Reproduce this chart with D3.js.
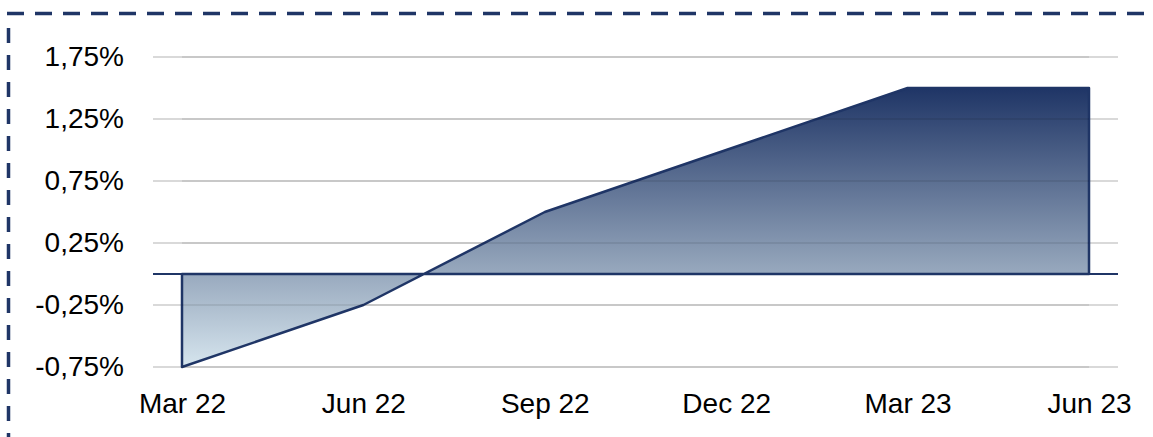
<!DOCTYPE html>
<html>
<head>
<meta charset="utf-8">
<script src="https://cdn.jsdelivr.net/npm/d3@7"></script>
<style>
  html, body { margin: 0; padding: 0; background: #fff; }
  svg { display: block; }
  text { font-family: "Liberation Sans", Arial, sans-serif; fill: #000; }
</style>
</head>
<body>
<svg id="chart" width="1153" height="437"></svg>
<script>
// Quarterly rate path (percent)
const categories = ["Mar 22", "Jun 22", "Sep 22", "Dec 22", "Mar 23", "Jun 23"];
const values = [-0.75, -0.25, 0.5, 1.0, 1.5, 1.5];
const yTicks = [-0.75, -0.25, 0.25, 0.75, 1.25, 1.75];

const navy = "#1f3566";
const svg = d3.select("#chart");

const x = d3.scalePoint().domain(categories).range([182, 1089]);
const y = d3.scaleLinear().domain([-0.75, 1.75]).range([367, 57]);
const plotLeft = 153, plotRight = 1118;

// Comma decimals, plain hyphen for negatives
const fmt = v => (v < 0 ? "-" : "") + Math.abs(v).toFixed(2).replace(".", ",") + "%";

// Dashed frame along the top and left edges
svg.append("line")
  .attr("x1", 7).attr("x2", 1153).attr("y1", 13.5).attr("y2", 13.5)
  .attr("stroke", navy).attr("stroke-width", 3.5)
  .attr("stroke-dasharray", "17 11");
svg.append("line")
  .attr("x1", 8.5).attr("x2", 8.5).attr("y1", 28).attr("y2", 437)
  .attr("stroke", navy).attr("stroke-width", 3.5)
  .attr("stroke-dasharray", "15 12");

// Gradient for the area fill
const defs = svg.append("defs");
const grad = defs.append("linearGradient")
  .attr("id", "areaGrad")
  .attr("x1", 0).attr("y1", 0).attr("x2", 0).attr("y2", 1);
grad.append("stop").attr("offset", "0%").attr("stop-color", "#1f3566");
grad.append("stop").attr("offset", "66%").attr("stop-color", "#97a8bd");
grad.append("stop").attr("offset", "100%").attr("stop-color", "#d6e5ee");

// Gridlines
svg.append("g").selectAll("line").data(yTicks).join("line")
  .attr("x1", plotLeft).attr("x2", plotRight)
  .attr("y1", d => y(d)).attr("y2", d => y(d))
  .attr("stroke", "#d9d9d9").attr("stroke-width", 2);

// Area between the series and zero
const area = d3.area()
  .x((d, i) => x(categories[i]))
  .y0(y(0))
  .y1(d => y(d));
svg.append("path")
  .datum(values)
  .attr("d", area)
  .attr("fill", "url(#areaGrad)")
  .attr("stroke", navy)
  .attr("stroke-width", 2.5)
  .attr("stroke-linejoin", "round");

// Gridlines faintly visible through the area
svg.append("g").selectAll("line").data(yTicks).join("line")
  .attr("x1", x(categories[0])).attr("x2", x(categories[categories.length - 1]))
  .attr("y1", d => y(d)).attr("y2", d => y(d))
  .attr("stroke", "#000").attr("stroke-opacity", 0.08).attr("stroke-width", 2);

// Zero line
svg.append("line")
  .attr("x1", plotLeft).attr("x2", plotRight)
  .attr("y1", y(0)).attr("y2", y(0))
  .attr("stroke", navy).attr("stroke-width", 2);

// Y axis labels
const yAxis = d3.axisLeft(y).tickValues(yTicks).tickFormat(fmt).tickSize(0).tickPadding(0);
svg.append("g")
  .attr("transform", "translate(124,0)")
  .call(yAxis)
  .call(g => g.select(".domain").remove())
  .call(g => g.selectAll("text")
    .attr("font-size", 28)
    .attr("font-family", "Liberation Sans, Arial, sans-serif")
    .attr("fill", "#000"));

// X axis labels
const xAxis = d3.axisBottom(x).tickSize(0).tickPadding(0);
svg.append("g")
  .attr("transform", "translate(0,0)")
  .call(xAxis)
  .call(g => g.select(".domain").remove())
  .call(g => g.selectAll("text")
    .attr("y", 413).attr("dy", null)
    .attr("font-size", 28)
    .attr("font-family", "Liberation Sans, Arial, sans-serif")
    .attr("fill", "#000"));
</script>
</body>
</html>
